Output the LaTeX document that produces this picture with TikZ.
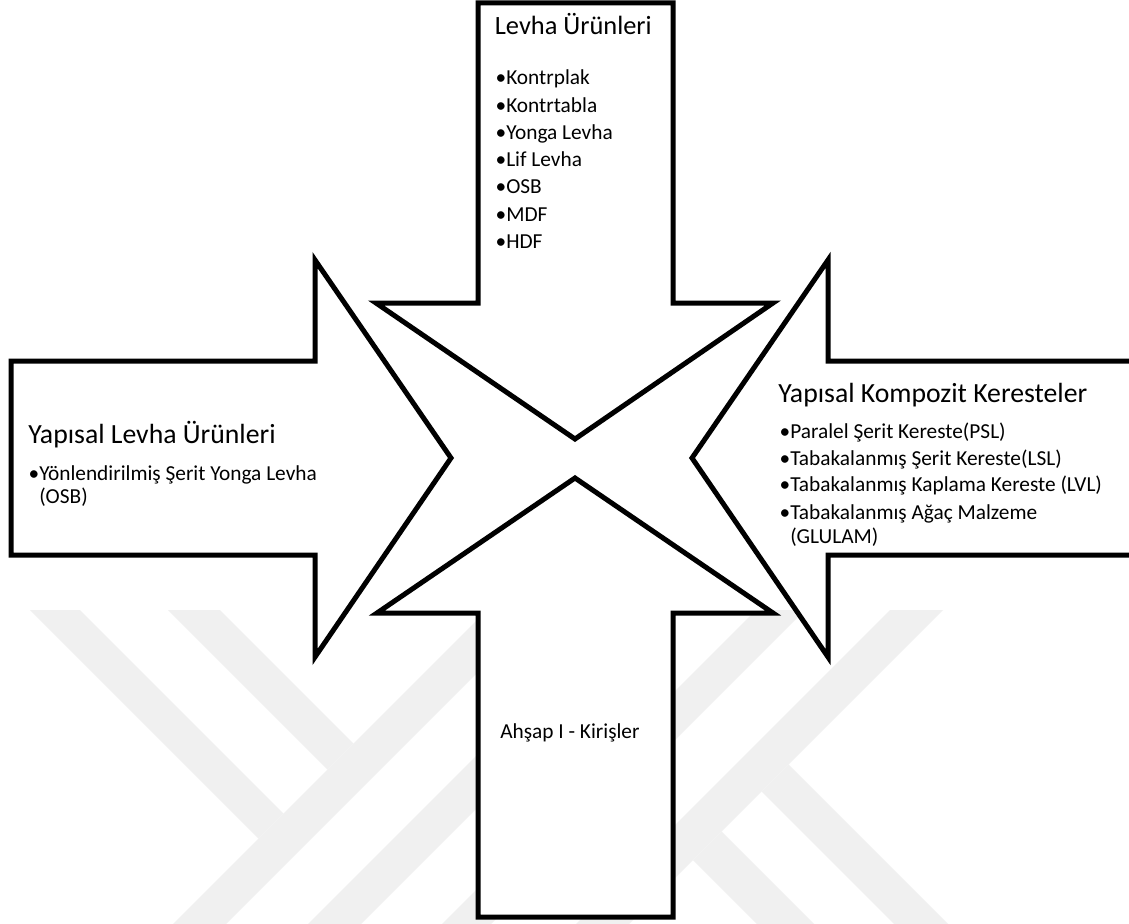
\documentclass[tikz,border=0pt]{standalone}
\usepackage{fontspec}
\setmainfont{Carlito}
\definecolor{wm}{RGB}{240,240,240}
\begin{document}
\begin{tikzpicture}[x=0.75pt,y=-0.75pt,
  arrowshape/.style={draw=black,fill=white,line width=3.75pt,miter limit=10},
  wmband/.style={fill=wm,draw=none},
  ttl/.style={anchor=base west,inner sep=0pt,font=\fontsize{20.8}{24}\selectfont},
  ttltop/.style={anchor=base west,inner sep=0pt,font=\fontsize{19.8}{24}\selectfont},
  itm/.style={anchor=base west,inner sep=0pt,font=\fontsize{16}{19}\selectfont},
  bul/.style={anchor=base east,inner sep=0pt,font=\fontsize{16}{19}\selectfont}]
\useasboundingbox (0,0) rectangle (1129,924);
\clip (0,0) rectangle (1129,924);
\fill[white] (0,0) rectangle (1129,924);
% faint watermark bands
\fill[wmband] (30,610) -- (80,610) -- (283.5,813.5) -- (258.5,838.5) -- cycle;
\fill[wmband] (168,610) -- (220,610) -- (353.5,743.5) -- (327.5,769.5) -- cycle;
\fill[wmband] (487,610) -- (540,610) -- (226,924) -- (173,924) -- cycle;
\fill[wmband] (622,610) -- (675,610) -- (361,924) -- (308,924) -- cycle;
\fill[wmband] (756,610) -- (805,610) -- (491,924) -- (442,924) -- cycle;
\fill[wmband] (890,610) -- (943,610) -- (629,924) -- (576,924) -- cycle;
\fill[wmband] (788.5,764.5) -- (948,924) -- (894,924) -- (761.5,791.5) -- cycle;
\fill[wmband] (721.5,831.5) -- (814,924) -- (757,924) -- (693,860) -- cycle;
% arrows
\draw[arrowshape] (478,3) -- (673,3) -- (673,303) -- (773,303) -- (575,439) -- (376,303) -- (478,303) -- cycle;
\draw[arrowshape] (478,917) -- (673,917) -- (673,613) -- (773,613) -- (575,478) -- (377,613) -- (478,613) -- cycle;
\draw[arrowshape] (11,361) -- (315,361) -- (315,260) -- (451,458) -- (315,657) -- (315,555) -- (11,555) -- cycle;
\draw[arrowshape] (1140,361) -- (828,361) -- (828,260) -- (692,458) -- (828,657) -- (828,555) -- (1140,555);
% top arrow text
\node[ttltop] (tT) at (494.6,35) {Levha Ürünleri};
\node[bul] (tb1) at (506.5,85) {•};
\node[itm] (t1) at (506,85) {Kontrplak};
\node[bul] (tb2) at (506.5,112.2) {•};
\node[itm] (t2) at (506,112.2) {Kontrtabla};
\node[bul] (tb3) at (506.5,139.4) {•};
\node[itm] (t3) at (506,139.4) {Yonga Levha};
\node[bul] (tb4) at (506.5,166.6) {•};
\node[itm] (t4) at (506,166.6) {Lif Levha};
\node[bul] (tb5) at (506.5,193.8) {•};
\node[itm] (t5) at (506,193.8) {OSB};
\node[bul] (tb6) at (506.5,221) {•};
\node[itm] (t6) at (506,221) {MDF};
\node[bul] (tb7) at (506.5,248.2) {•};
\node[itm] (t7) at (506,248.2) {HDF};
% left arrow text
\node[ttl] (lT) at (28,443) {Yapısal Levha Ürünleri};
\node[bul] (lb1) at (39.5,480.5) {•};
\node[itm] (l1) at (39,480.5) {Yönlendirilmiş Şerit Yonga Levha};
\node[itm] (l1b) at (39,503) {(OSB)};
% right arrow text
\node[ttl] (rT) at (778,402) {Yapısal Kompozit Keresteler};
\node[bul] (rb1) at (790.5,438.3) {•};
\node[itm] (r1) at (790,438.3) {Paralel Şerit Kereste(PSL)};
\node[bul] (rb2) at (790.5,465) {•};
\node[itm] (r2) at (790,465) {Tabakalanmış Şerit Kereste(LSL)};
\node[bul] (rb3) at (790.5,491.7) {•};
\node[itm] (r3) at (790,491.7) {Tabakalanmış Kaplama Kereste (LVL)};
\node[bul] (rb4) at (790.5,519.3) {•};
\node[itm] (r4) at (790,519.3) {Tabakalanmış Ağaç Malzeme};
\node[itm] (r4b) at (790,543) {(GLULAM)};
% bottom arrow text
\node[itm] (bT) at (500,738) {Ahşap I - Kirişler};
\end{tikzpicture}
\end{document}
